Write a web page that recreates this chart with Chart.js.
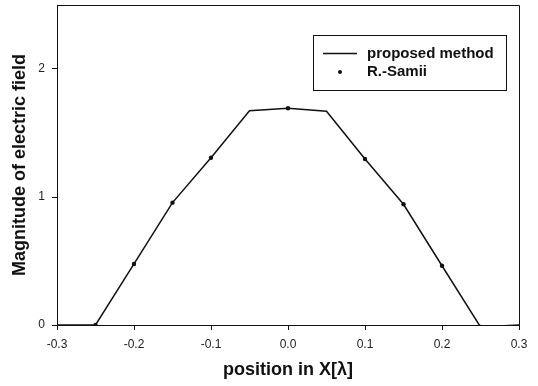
<!DOCTYPE html>
<html>
<head>
<meta charset="utf-8">
<script src="https://cdn.jsdelivr.net/npm/chart.js@4/dist/chart.umd.min.js"></script>
<style>
  html, body { margin: 0; padding: 0; background: #fff; }
  #wrap { width: 538px; height: 386px; }
</style>
</head>
<body>
<div id="wrap"><canvas id="c" width="538" height="386"></canvas></div>
<script>
// Data
const lineX = [-0.3, -0.25, -0.2, -0.15, -0.1, -0.05, 0.0, 0.05, 0.1, 0.15, 0.2, 0.25, 0.3];
const lineY = [0, 0, 0.477, 0.956, 1.307, 1.674, 1.693, 1.670, 1.297, 0.943, 0.463, -0.015, 0];
const dotX = [-0.25, -0.2, -0.15, -0.1, 0.0, 0.1, 0.15, 0.2, 0.25];
const dotY = [0, 0.477, 0.956, 1.307, 1.693, 1.297, 0.943, 0.463, -0.015];
const xTicks = [-0.3, -0.2, -0.1, 0.0, 0.1, 0.2, 0.3];
const yTicks = [0, 1, 2];
const seriesNames = ['proposed method', 'R.-Samii'];
const xTitle = 'position in X[\u03bb]';
const yTitle = 'Magnitude of electric field';

const FONT = "'Liberation Sans', Arial, sans-serif";

const framePlugin = {
  id: 'frame',
  afterDraw(chart) {
    const ctx = chart.ctx;
    const a = chart.chartArea;
    ctx.save();
    ctx.strokeStyle = '#111';
    ctx.lineWidth = 1;
    ctx.beginPath();
    ctx.moveTo(a.left, a.top + 0.5);
    ctx.lineTo(a.right + 0.5, a.top + 0.5);
    ctx.lineTo(a.right + 0.5, a.bottom);
    ctx.stroke();

    // legend box
    const bx = 313, by = 35, bw = 193, bh = 55;
    ctx.strokeStyle = '#111';
    ctx.strokeRect(bx + 0.5, by + 0.5, bw, bh);
    // line sample
    ctx.lineWidth = 1.5;
    ctx.beginPath();
    ctx.moveTo(323, 53.5);
    ctx.lineTo(357, 53.5);
    ctx.stroke();
    // dot sample
    ctx.fillStyle = '#111';
    ctx.beginPath();
    ctx.arc(340, 72, 2, 0, Math.PI * 2);
    ctx.fill();
    ctx.font = 'bold 15px ' + FONT;
    ctx.textBaseline = 'middle';
    ctx.textAlign = 'left';
    ctx.fillText(chart.data.datasets[0].label, 367, 54);
    ctx.fillText(chart.data.datasets[1].label, 367, 72);
    ctx.restore();
  }
};

const ctx = document.getElementById('c').getContext('2d');
new Chart(ctx, {
  type: 'scatter',
  data: {
    datasets: [
      {
        label: seriesNames[0],
        data: lineX.map((x, i) => ({ x: x, y: lineY[i] })),
        showLine: true,
        borderColor: '#111',
        borderWidth: 1.5,
        pointRadius: 0,
        tension: 0
      },
      {
        label: seriesNames[1],
        data: dotX.map((x, i) => ({ x: x, y: dotY[i] })),
        showLine: false,
        backgroundColor: '#111',
        borderColor: '#111',
        pointRadius: 2.2,
        pointBorderWidth: 0
      }
    ]
  },
  options: {
    responsive: false,
    animation: false,
    events: [],
    layout: { padding: { top: 5, right: 19, left: 0, bottom: 0 } },
    plugins: { legend: { display: false }, tooltip: { enabled: false } },
    scales: {
      x: {
        type: 'linear',
        min: -0.3, max: 0.3,
        afterBuildTicks: (s) => { s.ticks = xTicks.map(v => ({ value: v })); },
        afterFit: (s) => { s.height = 61; s.paddingLeft = 0; s.paddingRight = 0; },
        ticks: {
          color: '#222',
          font: { family: FONT, size: 12 },
          padding: 7,
          maxRotation: 0,
          autoSkip: false,
          callback: (v) => Number(v).toFixed(1)
        },
        grid: { display: true, drawOnChartArea: false, drawTicks: true, tickLength: 5, color: '#111' },
        border: { display: true, color: '#111', width: 1 },
        title: {
          display: true, text: xTitle, color: '#111',
          font: { family: FONT, size: 18, weight: 'bold' },
          padding: { top: 5, bottom: 5 }
        }
      },
      y: {
        type: 'linear',
        min: 0, max: 2.5,
        afterBuildTicks: (s) => { s.ticks = yTicks.map(v => ({ value: v })); },
        afterFit: (s) => { s.width = 57; s.paddingTop = 0; s.paddingBottom = 0; },
        ticks: {
          color: '#222',
          font: { family: FONT, size: 12 },
          padding: 7,
          autoSkip: false,
          callback: (v) => String(v)
        },
        grid: { display: true, drawOnChartArea: false, drawTicks: true, tickLength: 5, color: '#111' },
        border: { display: true, color: '#111', width: 1 },
        title: {
          display: true, text: yTitle, color: '#111',
          font: { family: FONT, size: 18, weight: 'bold' },
          padding: { top: 9, bottom: 0 }
        }
      }
    }
  },
  plugins: [framePlugin]
});
</script>
</body>
</html>
